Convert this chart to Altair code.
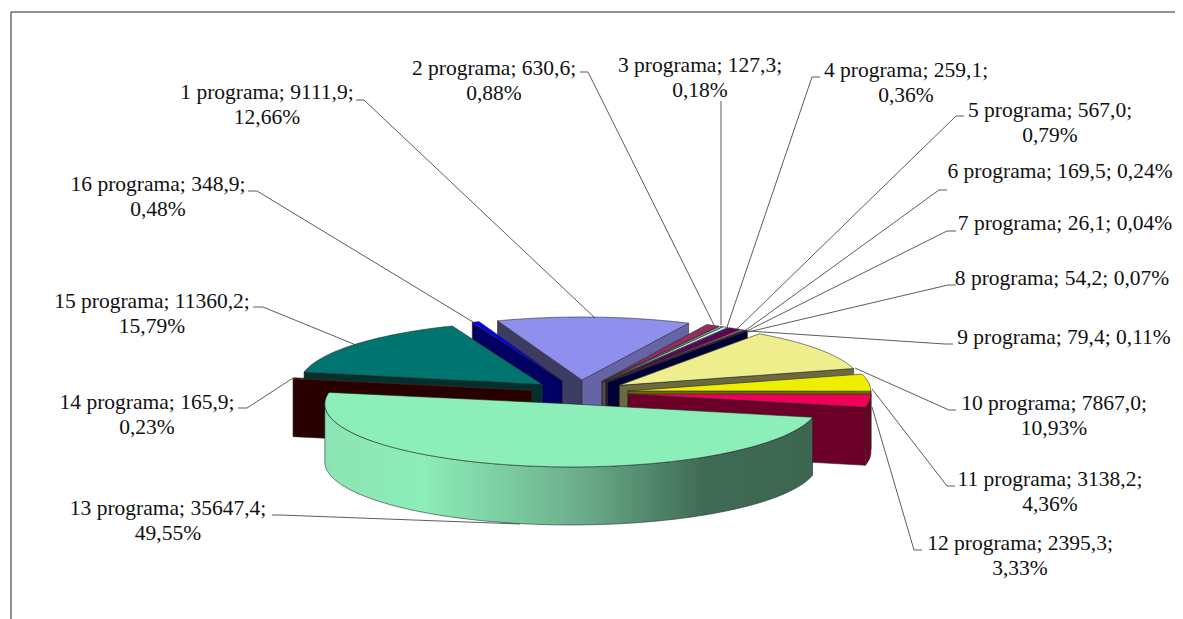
import math
import altair as alt

# ---- data ----
programs = ["1 programa", "2 programa", "3 programa", "4 programa", "5 programa", "6 programa",
            "7 programa", "8 programa", "9 programa", "10 programa", "11 programa", "12 programa",
            "13 programa", "14 programa", "15 programa", "16 programa"]
values = [9111.9, 630.6, 127.3, 259.1, 567.0, 169.5, 26.1, 54.2, 79.4, 7867.0, 3138.2, 2395.3,
          35647.4, 165.9, 11360.2, 348.9]
value_text = ["9111,9", "630,6", "127,3", "259,1", "567,0", "169,5", "26,1", "54,2", "79,4", "7867,0",
              "3138,2", "2395,3", "35647,4", "165,9", "11360,2", "348,9"]
percent_text = ["12,66%", "0,88%", "0,18%", "0,36%", "0,79%", "0,24%", "0,04%", "0,07%", "0,11%", "10,93%",
                "4,36%", "3,33%", "49,55%", "0,23%", "15,79%", "0,48%"]
one_line = [False, False, False, False, False, True, True, True, True, False,
            False, False, False, False, False, False]

# ---- styling and layout ----
colors = ["#8F8FEE", "#8F2F60", "#EEEEBF", "#BFEEEE", "#600060", "#EE7878", "#0060BF", "#BFBFEE",
          "#000078", "#EEEE8C", "#EEEE00", "#F0005A", "#8CEEB8", "#600000", "#00756F", "#0000EE"]
label_pos = [(267, 93), (494, 69), (700, 66), (906, 71), (1050, 111), (1060, 172), (1065, 224), (1062, 279),
             (1064, 338), (1054, 404), (1050, 480), (1020, 544), (168, 509), (147, 403), (152, 302), (158, 185)]
leaders = [
    [(356, 100), (364, 100), (595, 318)],
    [(580, 72), (588, 72), (714, 325)],
    [(721, 101), (721, 325)],
    [(820, 77), (812, 77), (727, 327)],
    [(964, 116), (956, 116), (737, 329)],
    [(947, 190), (939, 190), (746, 330)],
    [(956, 231), (947, 231), (747, 331)],
    [(956, 285), (948, 285), (748, 332)],
    [(953, 344), (945, 344), (748, 331)],
    [(956, 410), (949, 410), (855, 368)],
    [(955, 486), (947, 486), (872, 389)],
    [(922, 550), (914, 550), (872, 407)],
    [(272, 515), (280, 515), (520, 524)],
    [(238, 408), (247, 408), (293, 378)],
    [(253, 307), (263, 307), (356, 345)],
    [(248, 191), (257, 191), (473, 322)],
]
CX, CY, A, B, H = 579.6, 392.6, 243.0, 63.0, 58.0
EXPLODE = 0.2
START = -20.0
WIDER = {0: 1.016, 12: 1.015}   # the original's perspective draws these two a little wider
SHIFT_13 = (1.5, -1.0)


def shade(hex_color, f):
    r, g, b = (int(hex_color[i:i + 2], 16) for i in (1, 3, 5))
    return "#%02X%02X%02X" % (int(r * f), int(g * f), int(b * f))


def feature(coords, color, geom="Polygon"):
    if geom == "Polygon":
        geometry = {"type": "Polygon", "coordinates": [[list(p) for p in coords] + [list(coords[0])]]}
    else:
        geometry = {"type": "LineString", "coordinates": [list(p) for p in coords]}
    return {"type": "Feature", "geometry": geometry, "properties": {"color": color}}


def rim(ax, ay, t, drop=0.0, k=1.0):
    r = math.radians(t)
    return (ax + A * k * math.sin(r), ay - B * math.cos(r) + drop)


def arc(ax, ay, s, e, drop=0.0, k=1.0):
    n = max(2, int((e - s) * 2) + 1)
    return [rim(ax, ay, s + (e - s) * i / (n - 1), drop, k) for i in range(n)]


total = sum(values)
slices = []
cum = START
for i, v in enumerate(values):
    s, e = cum, cum + v / total * 360
    cum = e
    slices.append((i, s, e))

back, wall13, top13 = [], [], []
for i, s, e in sorted(slices, key=lambda q: -math.cos(math.radians((q[1] + q[2]) / 2))):
    mid = math.radians((s + e) / 2)
    ax = CX + A * EXPLODE * math.sin(mid)
    ay = CY - B * EXPLODE * math.cos(mid)
    if i == 12:
        ax += SHIFT_13[0]
        ay += SHIFT_13[1]
    k = WIDER.get(i, 1.0)
    col = colors[i]
    target = back
    if math.sin(math.radians(s)) < 0:
        p = rim(ax, ay, s, 0.0, k)
        target.append(feature([(ax, ay), p, (p[0], p[1] + H), (ax, ay + H)], shade(col, 0.42)))
    if math.sin(math.radians(e)) > 0:
        p = rim(ax, ay, e, 0.0, k)
        f = 0.7 if e < 30 else 0.45
        target.append(feature([(ax, ay), p, (p[0], p[1] + H), (ax, ay + H)], shade(col, f)))
    lo, hi = max(s, 90), min(e, 270)
    if hi > lo:
        poly = arc(ax, ay, lo, hi, 0.0, k) + arc(ax, ay, lo, hi, H, k)[::-1]
        if i == 12:
            wall13.append(feature(poly, col))
        else:
            target.append(feature(poly, shade(col, 0.45)))
    sector = [(ax, ay)] + arc(ax, ay, s, e, 0.0, k)
    (top13 if i == 12 else back).append(feature(sector, col))

lines = [feature(pts, "#4A4A4A", "LineString") for pts in leaders]
frame = [feature([(11, 625), (11, 12), (1190, 12)], "#222222", "LineString")]

rows = []
for i, name in enumerate(programs):
    x, y = label_pos[i]
    if one_line[i]:
        rows.append({"x": x, "y": y, "t": f"{name}; {value_text[i]};  {percent_text[i]}"})
    else:
        rows.append({"x": x, "y": y, "t": f"{name}; {value_text[i]};"})
        rows.append({"x": x, "y": y + 25, "t": percent_text[i]})

proj = dict(type="identity", scale=1, translate=[-8, -8])
fill = alt.Fill("properties.color:N", scale=None, legend=None)
stroke_style = dict(stroke="#2A2A2A", strokeWidth=0.6)


def shapes(feats):
    return alt.Chart(alt.Data(values=feats)).mark_geoshape(**stroke_style).encode(fill=fill).project(**proj)


gradient = alt.Gradient(
    gradient="linear", x1=0, x2=1, y1=0, y2=0,
    stops=[alt.GradientStop(offset=0, color="#8CE4B4"),
           alt.GradientStop(offset=0.2, color="#8CEEB8"),
           alt.GradientStop(offset=0.52, color="#6CAE8C"),
           alt.GradientStop(offset=0.78, color="#3F6A55"),
           alt.GradientStop(offset=1, color="#3D6650")])

wall_layer = alt.Chart(alt.Data(values=wall13)).mark_geoshape(fill=gradient, **stroke_style).project(**proj)
line_layer = (alt.Chart(alt.Data(values=lines))
              .mark_geoshape(filled=False, stroke="#4A4A4A", strokeWidth=0.9).project(**proj))
frame_layer = (alt.Chart(alt.Data(values=frame))
               .mark_geoshape(filled=False, stroke="#222222", strokeWidth=1).project(**proj))
text_layer = (alt.Chart(alt.Data(values=rows))
              .mark_text(font="Liberation Serif", fontSize=21.5, color="#111111", align="center", baseline="middle")
              .encode(longitude="x:Q", latitude="y:Q", text="t:N").project(**proj))

chart = (alt.layer(frame_layer, shapes(back), wall_layer, shapes(top13), line_layer, text_layer)
         .properties(width=1167, height=611, padding=0, autosize="none", background="white")
         .configure_view(stroke=None))

chart.save("out.html", embed_options={"renderer": "svg", "actions": False})
